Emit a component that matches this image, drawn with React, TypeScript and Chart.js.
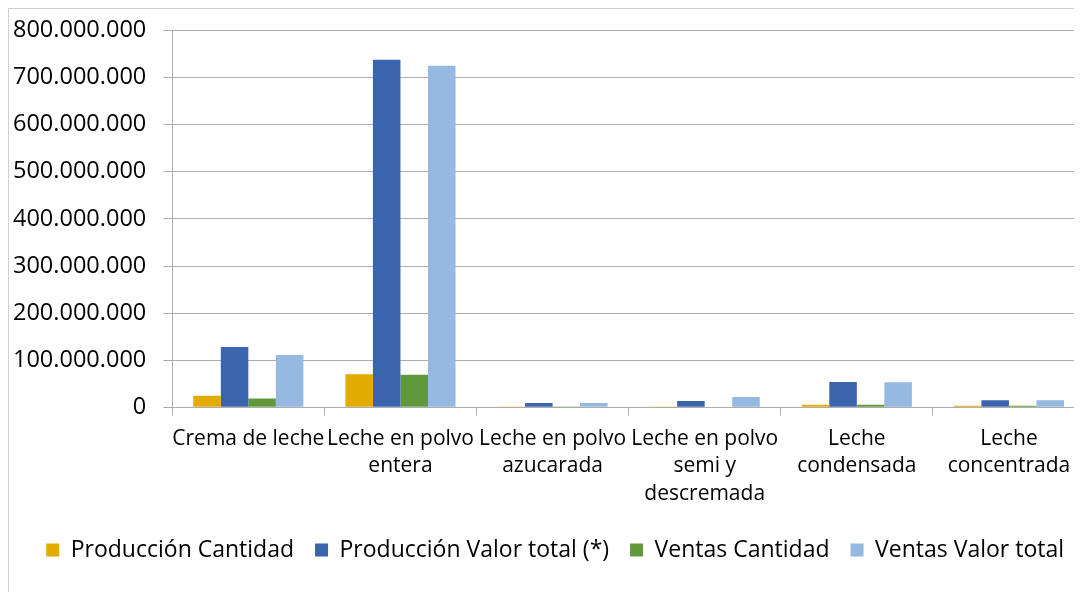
import React, { useEffect, useRef } from 'react';
import { Chart, registerables } from 'chart.js';

Chart.register(...registerables);

const categories: string[][] = [
  ['Crema de leche'],
  ['Leche en polvo', 'entera'],
  ['Leche en polvo', 'azucarada'],
  ['Leche en polvo', 'semi y', 'descremada'],
  ['Leche', 'condensada'],
  ['Leche', 'concentrada'],
];

const produccionCantidad = [24700000, 70500000, 300000, 500000, 5500000, 3500000];
const produccionValor = [128000000, 738000000, 9000000, 13500000, 54000000, 15000000];
const ventasCantidad = [19000000, 69000000, 200000, 1500000, 5500000, 3500000];
const ventasValor = [111000000, 725000000, 9000000, 22000000, 53500000, 15000000];

const seriesLabels = [
  'Producción Cantidad',
  'Producción Valor total (*)',
  'Ventas Cantidad',
  'Ventas Valor total',
];
const seriesColors = ['#E3AA00', '#3A64AE', '#62983C', '#95B9E1'];

const yMin = 0;
const yMax = 800000000;
const yStep = 100000000;

const fmt = (v: number) => Math.round(v).toString().replace(/\B(?=(\d{3})+(?!\d))/g, '.');

export default function App() {
  const ref = useRef<HTMLCanvasElement | null>(null);

  useEffect(() => {
    document.documentElement.style.overflow = 'hidden';
    document.body.style.overflow = 'hidden';
    if (!ref.current) return;
    const values = [produccionCantidad, produccionValor, ventasCantidad, ventasValor];
    const gridColor = '#ADADAD';
    const chart = new Chart(ref.current, {
      type: 'bar',
      data: {
        labels: categories,
        datasets: values.map((d, i) => ({
          label: seriesLabels[i],
          data: d,
          backgroundColor: seriesColors[i],
          borderWidth: 0,
          categoryPercentage: 0.724,
          barPercentage: 1,
        })),
      },
      options: {
        animation: false,
        responsive: true,
        maintainAspectRatio: false,
        layout: { padding: { left: -13, right: 22, top: 0, bottom: 35.5 } },
        plugins: {
          tooltip: { enabled: false },
          title: { display: false },
          legend: {
            position: 'bottom',
            align: 'end',
            labels: {
              boxWidth: 13,
              boxHeight: 13,
              padding: 21,
              color: '#000',
              font: { family: 'Open Sans', size: 23 },
            },
          },
        },
        scales: {
          x: {
            grid: {
              drawOnChartArea: false,
              drawTicks: true,
              tickLength: 8,
              color: gridColor,
            },
            border: { display: true, color: gridColor },
            ticks: {
              color: '#000',
              autoSkip: false,
              maxRotation: 0,
              minRotation: 0,
              padding: 9.5,
              font: { family: 'Open Sans', size: 21, lineHeight: 1.32 },
            },
          },
          y: {
            min: yMin,
            max: yMax,
            grid: { color: gridColor, tickLength: 9, drawTicks: true },
            border: { display: true, color: gridColor },
            ticks: {
              stepSize: yStep,
              color: '#000',
              padding: 17,
              font: { family: 'Open Sans', size: 23.5, lineHeight: 0.38 },
              callback: (v: any) => fmt(Number(v)),
            },
          },
        },
      },
    });
    return () => chart.destroy();
  }, []);

  return (
    <div
      style={{
        position: 'relative',
        width: 1100,
        height: 600,
        border: '1px solid #D0D0D0',
        boxSizing: 'border-box',
        background: '#fff',
      }}
    >
      <canvas ref={ref} />
    </div>
  );
}
